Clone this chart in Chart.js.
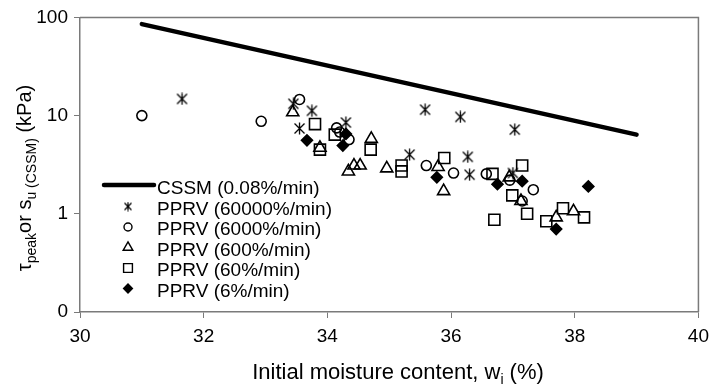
<!DOCTYPE html>
<html>
<head>
<meta charset="utf-8">
<script src="https://cdn.jsdelivr.net/npm/chart.js@4.4.1/dist/chart.umd.min.js"></script>
<style>
  html, body { margin: 0; padding: 0; background: #fff; overflow: hidden; }
  canvas { display: block; }
</style>
</head>
<body>
<canvas id="chart" width="716" height="384"></canvas>
<script>
// CSSM trend line
const cssmW = [31.0, 39.0];
const cssmS = [85.5, 6.4];

// PPRV (60000%/min)
const w60000 = [31.65, 33.45, 33.55, 33.75, 34.3, 35.33, 35.58, 36.15, 36.27, 36.3, 37.0, 37.03];
const s60000 = [14.8, 13.2, 7.4, 11.2, 8.5, 4.0, 11.5, 9.7, 3.8, 2.5, 2.6, 7.2];

// PPRV (6000%/min)
const w6000 = [31.0, 32.93, 33.55, 34.15, 34.2, 34.35, 35.6, 36.04, 36.57, 36.95, 37.15, 37.33];
const s6000 = [10.0, 8.75, 14.6, 7.5, 6.8, 5.7, 3.1, 2.6, 2.55, 2.2, 1.35, 1.76];

// PPRV (600%/min)
const w600 = [33.44, 33.88, 34.34, 34.43, 34.53, 34.71, 34.96, 35.79, 35.88, 36.94, 37.13, 37.7, 37.98];
const s600 = [10.8, 4.7, 2.7, 3.1, 3.1, 5.8, 2.9, 3.0, 1.7, 2.35, 1.35, 0.92, 1.06];

// PPRV (60%/min)
const w60 = [33.8, 33.88, 34.12, 34.7, 35.2, 35.2, 35.89, 36.67, 36.7, 36.99, 37.15, 37.23, 37.54, 37.81, 38.15];
const s60 = [8.2, 4.5, 6.4, 4.5, 3.1, 2.7, 3.7, 2.55, 0.87, 1.54, 3.1, 1.0, 0.84, 1.14, 0.92];

// PPRV (6%/min)
const w6 = [33.67, 34.25, 34.3, 35.77, 36.75, 37.15, 37.7, 38.22];
const s6 = [5.6, 4.95, 6.5, 2.35, 2.0, 2.15, 0.7, 1.9];

const xTicks = [30, 32, 34, 36, 38, 40];
const yTicks = [0.1, 1, 10, 100];

const FONT = '"Liberation Sans", Arial, sans-serif';
const AXIS_GREY = '#7a7a7a';

function pts(xs, ys) {
    return xs.map(function(x, i) { return {x: x, y: ys[i]}; });
}

// asterisk marker like the spreadsheet one (x with a vertical bar)
function makeStar(size, lw) {
    const c = document.createElement('canvas');
    c.width = size; c.height = size;
    const g = c.getContext('2d');
    const m = 1.5, e = size - 1.5, h = size / 2;
    g.strokeStyle = '#000';
    g.lineWidth = lw;
    g.beginPath();
    g.moveTo(m, m); g.lineTo(e, e);
    g.moveTo(e, m); g.lineTo(m, e);
    g.moveTo(h, 0.5); g.lineTo(h, size - 0.5);
    g.stroke();
    return c;
}
const starBig = makeStar(13, 1.3);
const starSmall = makeStar(10, 1.2);

function scatterSet(label, xs, ys, style, radius, filled) {
    return {
        label: label,
        data: pts(xs, ys),
        showLine: false,
        pointStyle: style,
        pointRadius: radius,
        pointHoverRadius: radius,
        pointBorderWidth: 1.6,
        pointBorderColor: '#000',
        pointBackgroundColor: filled ? '#000' : 'rgba(0,0,0,0)',
        borderColor: '#000',
        backgroundColor: filled ? '#000' : 'rgba(0,0,0,0)'
    };
}

const datasets = [
    {
        label: 'CSSM (0.08%/min)',
        data: pts(cssmW, cssmS),
        showLine: true,
        borderColor: '#000',
        borderWidth: 4.5,
        borderCapStyle: 'round',
        pointRadius: 0
    },
    scatterSet('PPRV (60000%/min)', w60000, s60000, starBig, 6, false),
    scatterSet('PPRV (6000%/min)', w6000, s6000, 'circle', 5, false),
    scatterSet('PPRV (600%/min)', w600, s600, 'triangle', 7, false),
    scatterSet('PPRV (60%/min)', w60, s60, 'rect', 7.8, false),
    scatterSet('PPRV (6%/min)', w6, s6, 'rectRot', 5.5, true)
];

// draws a run of text pieces, subscripts smaller and dropped
function drawRich(ctx, parts, big, small, drop) {
    let total = 0;
    parts.forEach(function(p) {
        ctx.font = (p.sub ? small : big) + 'px ' + FONT;
        p.w = ctx.measureText(p.t).width;
        total += p.w;
    });
    let x = -total / 2;
    parts.forEach(function(p) {
        ctx.font = (p.sub ? small : big) + 'px ' + FONT;
        ctx.fillText(p.t, x, p.sub ? drop : 0);
        x += p.w;
    });
}

// top and right edges of the plot box
const framePlugin = {
    id: 'frame',
    afterDraw: function(chart) {
        const ctx = chart.ctx;
        const a = chart.chartArea;
        ctx.save();
        ctx.strokeStyle = AXIS_GREY;
        ctx.lineWidth = 1.5;
        ctx.beginPath();
        ctx.moveTo(a.left, a.top);
        ctx.lineTo(a.right, a.top);
        ctx.lineTo(a.right, a.bottom);
        ctx.stroke();
        ctx.restore();
    }
};

const textPlugin = {
    id: 'texts',
    afterDraw: function(chart) {
        const ctx = chart.ctx;
        const a = chart.chartArea;
        ctx.save();
        ctx.fillStyle = '#000';
        ctx.textBaseline = 'alphabetic';
        ctx.textAlign = 'left';

        // x title
        ctx.save();
        ctx.translate(398, 379);
        drawRich(ctx, [
            {t: 'Initial moisture content, w'},
            {t: 'i', sub: true},
            {t: ' (%)'}
        ], 22, 14, 5);
        ctx.restore();

        // y title
        ctx.save();
        ctx.translate(31, 178);
        ctx.rotate(-Math.PI / 2);
        drawRich(ctx, [
            {t: '\u03c4'},
            {t: 'peak', sub: true},
            {t: 'or s'},
            {t: 'u (CSSM)', sub: true},
            {t: ' (kPa)'}
        ], 20, 14, 5);
        ctx.restore();

        // legend inside the plot
        ctx.font = '19px ' + FONT;
        ctx.textBaseline = 'middle';
        const lx = a.left;
        chart.data.datasets.forEach(function(ds, i) {
            const y = 189 + i * 20.5;
            if (ds.showLine) {
                ctx.strokeStyle = '#000';
                ctx.lineWidth = 4.5;
                ctx.lineCap = 'round';
                ctx.beginPath();
                ctx.moveTo(lx + 24, y - 4);
                ctx.lineTo(lx + 74, y - 4);
                ctx.stroke();
            } else {
                ctx.strokeStyle = '#000';
                ctx.lineWidth = 1.4;
                ctx.fillStyle = ds.backgroundColor;
                let style = ds.pointStyle;
                if (style === starBig) style = starSmall;
                Chart.helpers.drawPoint(ctx, {
                    pointStyle: style,
                    radius: ds.pointRadius * 0.8,
                    rotation: 0,
                    borderWidth: 1.4
                }, lx + 48, y - 3);
            }
            ctx.fillStyle = '#000';
            ctx.fillText(ds.label, lx + 77, y);
        });
        ctx.restore();
    }
};

new Chart(document.getElementById('chart').getContext('2d'), {
    type: 'scatter',
    data: { datasets: datasets },
    options: {
        responsive: false,
        animation: false,
        layout: { padding: { left: 0, right: 10.4, top: 17, bottom: 0 } },
        plugins: {
            legend: { display: false },
            tooltip: { enabled: false }
        },
        scales: {
            x: {
                type: 'linear',
                min: 30,
                max: 40,
                afterBuildTicks: function(scale) {
                    scale.ticks = xTicks.map(function(v) { return {value: v}; });
                },
                afterFit: function(scale) { scale.height = 72; },
                ticks: {
                    color: '#000',
                    padding: 7,
                    maxRotation: 0,
                    font: { family: FONT, size: 19 }
                },
                grid: {
                    drawOnChartArea: false,
                    drawTicks: true,
                    tickLength: 6,
                    color: AXIS_GREY
                },
                border: { color: AXIS_GREY, width: 1.5 }
            },
            y: {
                type: 'logarithmic',
                min: 0.1,
                max: 100,
                afterBuildTicks: function(scale) {
                    scale.ticks = yTicks.map(function(v) { return {value: v}; });
                },
                afterFit: function(scale) { scale.width = 80; },
                ticks: {
                    color: '#000',
                    padding: 6,
                    font: { family: FONT, size: 19 },
                    callback: function(v) { return v < 1 ? '0' : String(v); }
                },
                grid: {
                    drawOnChartArea: false,
                    drawTicks: true,
                    tickLength: 6,
                    color: AXIS_GREY
                },
                border: { color: AXIS_GREY, width: 1.5 }
            }
        }
    },
    plugins: [framePlugin, textPlugin]
});
</script>
</body>
</html>
